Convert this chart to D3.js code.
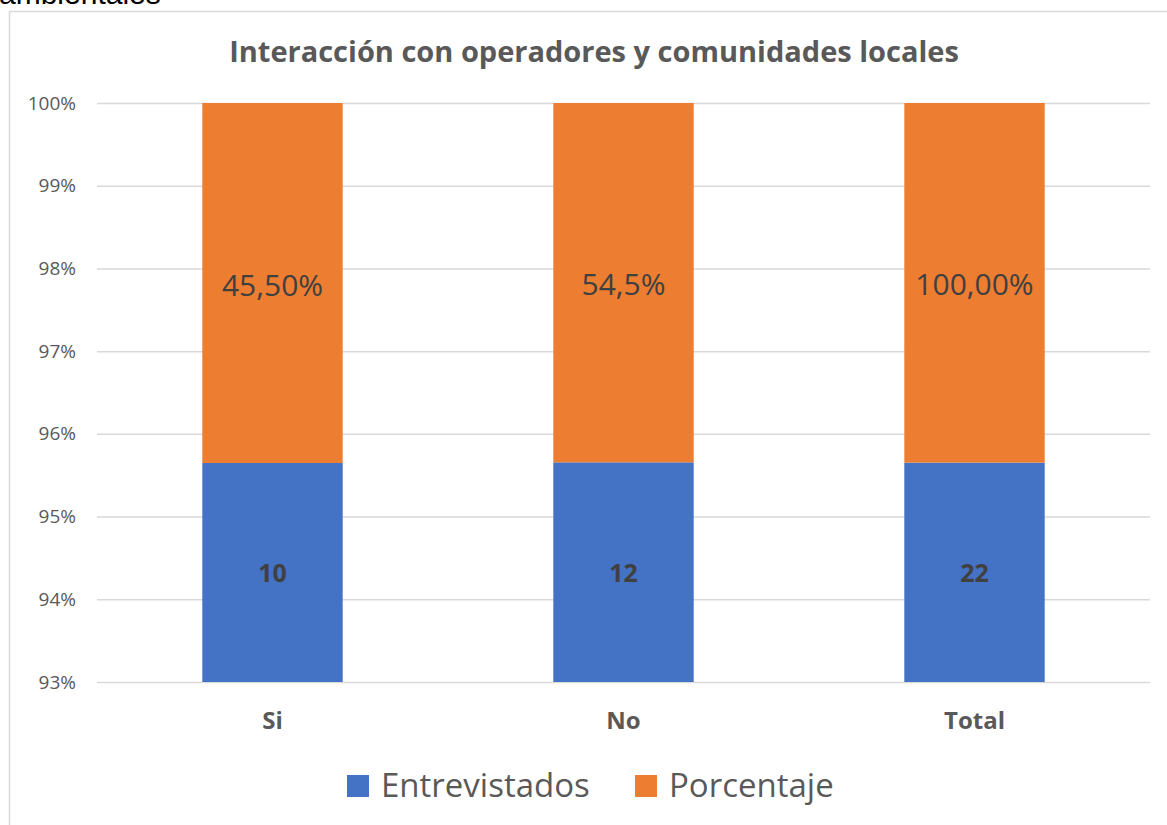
<!DOCTYPE html>
<html>
<head>
<meta charset="utf-8">
<script src="https://cdn.jsdelivr.net/npm/d3@7"></script>
<style>
  body { margin: 0; background: #fff; overflow: hidden; }
  text { font-family: "Open Sans", "Noto Sans", sans-serif; }
</style>
</head>
<body>
<div id="chart"></div>
<script>
// data
const categories = ["Si", "No", "Total"];
const entrevistados = [10, 12, 22];
const porcentaje = [0.455, 0.545, 1.0];
const porcentajeLabels = ["45,50%", "54,5%", "100,00%"];
const seriesNames = ["Entrevistados", "Porcentaje"];
const yTicks = [0.93, 0.94, 0.95, 0.96, 0.97, 0.98, 0.99, 1.0];

const colors = ["#4472C4", "#ED7D31"];

const W = 1167, H = 825;
const plot = {left: 97, right: 1150, top: 103, bottom: 682};

const svg = d3.select("#chart")
  .append("svg")
  .attr("width", W)
  .attr("height", H);

// text above the chart, cut at the top of the picture
svg.append("text")
  .attr("x", -1)
  .attr("y", 4)
  .style("font-family", "'Liberation Sans', Arial, sans-serif")
  .style("font-size", "30px")
  .attr("fill", "#000")
  .text("ambientales");

// chart border (runs past right and bottom of the picture)
svg.append("rect")
  .attr("x", 9.5).attr("y", 11.5)
  .attr("width", 1200).attr("height", 900)
  .attr("fill", "#fff")
  .attr("stroke", "#D9D9D9")
  .attr("stroke-width", 1.5);

svg.append("text")
  .attr("x", 594)
  .attr("y", 62)
  .attr("text-anchor", "middle")
  .attr("fill", "#595959")
  .style("font-size", "29px")
  .style("font-weight", "bold")
  .text("Interacción con operadores y comunidades locales");

const table = categories.map((c, i) => ({cat: c, Entrevistados: entrevistados[i], Porcentaje: porcentaje[i]}));
const stacked = d3.stack().keys(seriesNames).offset(d3.stackOffsetExpand)(table);

const x = d3.scaleBand()
  .domain(categories)
  .range([plot.left, plot.right])
  .paddingInner(0.6)
  .paddingOuter(0.3);

const y = d3.scaleLinear()
  .domain([0.93, 1])
  .range([plot.bottom, plot.top]);

// gridlines + y tick labels
const yAxis = svg.append("g")
  .attr("transform", `translate(${plot.left},0)`)
  .call(d3.axisLeft(y).tickValues(yTicks).tickFormat(d3.format(".0%"))
    .tickSize(-(plot.right - plot.left)).tickPadding(21));
yAxis.select(".domain").remove();
yAxis.selectAll(".tick line").attr("stroke", "#D9D9D9").attr("stroke-width", 1.5);
yAxis.selectAll(".tick text")
  .attr("fill", "#595959")
  .style("font-size", "19px")
  .style("font-family", "'Open Sans', sans-serif");

svg.append("clipPath").attr("id", "plotclip")
  .append("rect")
  .attr("x", plot.left).attr("y", plot.top)
  .attr("width", plot.right - plot.left).attr("height", plot.bottom - plot.top);

const bars = svg.append("g").attr("clip-path", "url(#plotclip)");
bars.selectAll("g")
  .data(stacked)
  .join("g")
  .attr("fill", (d, i) => colors[i])
  .selectAll("rect")
  .data(d => d)
  .join("rect")
  .attr("x", d => x(d.data.cat))
  .attr("width", x.bandwidth())
  .attr("y", d => y(d[1]))
  .attr("height", d => y(d[0]) - y(d[1]));

// data labels, centred on the visible part of each segment
const visMid = d => (Math.max(d[0], 0.93) + Math.min(d[1], 1)) / 2;

svg.append("g").selectAll("text")
  .data(stacked[0])
  .join("text")
  .attr("x", d => x(d.data.cat) + x.bandwidth() / 2)
  .attr("y", d => y(visMid(d)))
  .attr("dy", "0.38em")
  .attr("text-anchor", "middle")
  .attr("fill", "#404040")
  .style("font-size", "25px")
  .style("font-weight", "bold")
  .text((d, i) => entrevistados[i]);

svg.append("g").selectAll("text")
  .data(stacked[1])
  .join("text")
  .attr("x", d => x(d.data.cat) + x.bandwidth() / 2)
  .attr("y", d => y(visMid(d)))
  .attr("dy", "0.42em")
  .attr("text-anchor", "middle")
  .attr("fill", "#404040")
  .style("font-size", "30px")
  .text((d, i) => porcentajeLabels[i]);

// category labels
svg.append("g").selectAll("text")
  .data(categories)
  .join("text")
  .attr("x", d => x(d) + x.bandwidth() / 2)
  .attr("y", 729)
  .attr("text-anchor", "middle")
  .attr("fill", "#595959")
  .style("font-size", "24px")
  .style("font-weight", "bold")
  .text(d => d);

// legend
const legendX = [347, 635];
const legend = svg.append("g").selectAll("g")
  .data(seriesNames)
  .join("g")
  .attr("transform", (d, i) => `translate(${legendX[i]},775)`);
legend.append("rect")
  .attr("width", 22).attr("height", 22)
  .attr("fill", (d, i) => colors[i]);
legend.append("text")
  .attr("x", 34)
  .attr("y", 22)
  .attr("fill", "#595959")
  .style("font-size", "33px")
  .text(d => d);
</script>
</body>
</html>
